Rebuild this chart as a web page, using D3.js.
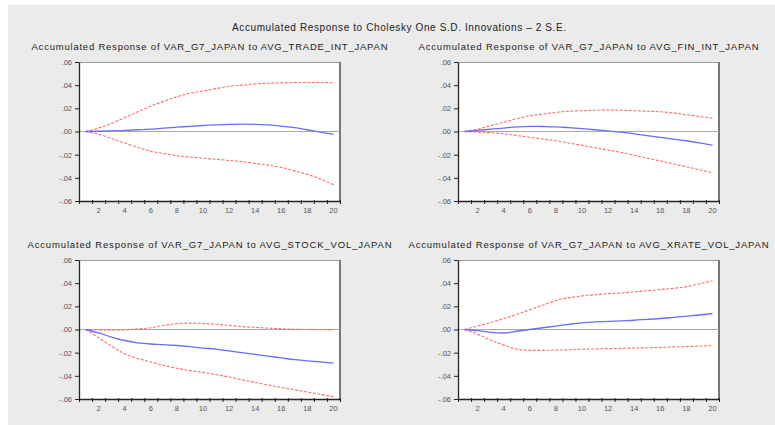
<!DOCTYPE html>
<html>
<head>
<meta charset="utf-8">
<script src="https://cdn.jsdelivr.net/npm/d3@7"></script>
<style>
  body { margin: 0; background: #fff; }
  svg { display: block; font-family: "Liberation Sans", Arial, sans-serif; }
</style>
</head>
<body>
<svg id="chart" width="775" height="425"></svg>
<script>
// periods 1..20
var periods = d3.range(1, 21)
var yTicks = [0.06, 0.04, 0.02, 0, -0.02, -0.04, -0.06]
var xLabels = [2, 4, 6, 8, 10, 12, 14, 16, 18, 20]

var mainTitle = 'Accumulated Response to Cholesky One S.D. Innovations \u2013 2 S.E.'
var panelTitles = [
  'Accumulated Response of VAR_G7_JAPAN to AVG_TRADE_INT_JAPAN',
  'Accumulated Response of VAR_G7_JAPAN to AVG_FIN_INT_JAPAN',
  'Accumulated Response of VAR_G7_JAPAN to AVG_STOCK_VOL_JAPAN',
  'Accumulated Response of VAR_G7_JAPAN to AVG_XRATE_VOL_JAPAN'
]

// responses (blue) and +/- 2 S.E. bands (red)
var tradeResp  = [0, .0002, .0005, .001, .0015, .002, .003, .0037, .0045, .0052, .0058, .0062, .0064, .0062, .0057, .0047, .0033, .0015, -.0005, -.0024]
var tradeUpper = [0, .003, .007, .012, .017, .022, .026, .030, .033, .035, .037, .039, .040, .041, .0417, .042, .0423, .0423, .0423, .042]
var tradeLower = [0, -.0023, -.006, -.010, -.0136, -.017, -.019, -.021, -.022, -.023, -.024, -.025, -.026, -.0275, -.029, -.031, -.034, -.037, -.041, -.046]

var finResp  = [0, .001, .002, .003, .004, .0045, .0043, .004, .0033, .0025, .0015, .0005, -.0005, -.002, -.0035, -.005, -.0065, -.008, -.0098, -.0118]
var finUpper = [0, .002, .005, .008, .011, .0135, .015, .0165, .0175, .018, .0183, .0185, .0183, .018, .0175, .017, .016, .0145, .013, .0115]
var finLower = [0, -.0005, -.001, -.002, -.0035, -.005, -.0065, -.008, -.010, -.012, -.014, -.016, -.018, -.0205, -.023, -.0255, -.028, -.0305, -.033, -.0357]

var stockResp  = [0, -.003, -.0065, -.0095, -.0115, -.0125, -.013, -.0138, -.0148, -.016, -.017, -.0185, -.020, -.0215, -.023, -.0245, -.026, -.027, -.028, -.029]
var stockUpper = [0, -.0003, -.0005, -.0003, .0005, .0015, .0035, .005, .0055, .0052, .0045, .0035, .0025, .0018, .0012, .0006, .0002, 0, -.0002, -.0003]
var stockLower = [0, -.007, -.0145, -.021, -.025, -.028, -.031, -.0335, -.0355, -.037, -.039, -.041, -.0435, -.0457, -.048, -.050, -.052, -.054, -.056, -.058]

var xrateResp  = [0, -.001, -.0025, -.003, -.0015, 0, .0015, .003, .0045, .0058, .0065, .007, .0075, .008, .0088, .0095, .0105, .0115, .0125, .0138]
var xrateUpper = [0, .003, .006, .0095, .013, .017, .021, .025, .0275, .029, .030, .031, .0315, .0325, .0335, .0345, .0355, .037, .0395, .042]
var xrateLower = [0, -.004, -.009, -.0135, -.017, -.018, -.018, -.0178, -.0175, -.017, -.0168, -.0165, -.0163, -.016, -.0158, -.0155, -.015, -.0148, -.0143, -.014]

var panels = [
  {title: panelTitles[0], resp: tradeResp, upper: tradeUpper, lower: tradeLower, x0: 79, y0: 62, tw: 356},
  {title: panelTitles[1], resp: finResp, upper: finUpper, lower: finLower, x0: 458, y0: 62, tw: 340},
  {title: panelTitles[2], resp: stockResp, upper: stockUpper, lower: stockLower, x0: 79, y0: 260, tw: 364},
  {title: panelTitles[3], resp: xrateResp, upper: xrateUpper, lower: xrateLower, x0: 458, y0: 260, tw: 360},
]

var plotW = 261
var plotH = 139

var svg = d3.select('#chart')

svg.append('rect')
  .attr('x', 8).attr('y', 5)
  .attr('width', 767).attr('height', 420)
  .attr('fill', '#ebebeb')

svg.append('text')
  .attr('x', 399).attr('y', 31)
  .attr('text-anchor', 'middle')
  .attr('font-size', 10)
  .attr('textLength', 334)
  .attr('lengthAdjust', 'spacing')
  .attr('fill', '#222')
  .text(mainTitle)

var fmt = d => d == 0 ? '.00' : (d < 0 ? '-' : '') + d3.format('.2f')(Math.abs(d)).replace(/^0/, '')

panels.forEach(p => {
  var x = d3.scaleLinear().domain([0.5, 20.5]).range([0, plotW])
  var y = d3.scaleLinear().domain([-0.06, 0.06]).range([plotH, 0])

  var g = svg.append('g').attr('transform', `translate(${p.x0},${p.y0})`)

  svg.append('text')
    .attr('x', p.x0 + plotW/2).attr('y', p.y0 - 12)
    .attr('text-anchor', 'middle')
    .attr('font-size', 9.5)
    .attr('textLength', p.tw)
    .attr('lengthAdjust', 'spacing')
    .attr('fill', '#222')
    .text(p.title)

  g.append('rect')
    .attr('width', plotW).attr('height', plotH)
    .attr('fill', '#fff')

  // frame: thin top, thick gray right
  g.append('path')
    .attr('d', `M0,0.5H${plotW}`)
    .attr('stroke', '#999').attr('stroke-width', 1)
  g.append('path')
    .attr('d', `M${plotW},0V${plotH}`)
    .attr('stroke', '#777').attr('stroke-width', 2)

  // zero line
  g.append('line')
    .attr('x1', 0).attr('x2', plotW)
    .attr('y1', y(0)).attr('y2', y(0))
    .attr('stroke', '#aaa').attr('stroke-width', 1)

  var yAxis = g.append('g')
    .call(d3.axisLeft(y).tickValues(yTicks).tickFormat(fmt).tickSize(4).tickSizeOuter(0))
  yAxis.select('.domain').attr('stroke', '#222').attr('stroke-width', 1.3)
  yAxis.selectAll('.tick line').attr('stroke', '#222')
  yAxis.selectAll('text').attr('font-size', 7.5).attr('fill', '#555')
    .attr('font-family', '"Liberation Sans", Arial, sans-serif')

  var xAxis = g.append('g').attr('transform', `translate(0,${plotH})`)
    .call(d3.axisBottom(x).tickValues(d3.range(0.5, 21, 1)).tickFormat('').tickSize(3).tickSizeOuter(0))
  xAxis.select('.domain').attr('stroke', '#222').attr('stroke-width', 1.3)
  xAxis.selectAll('.tick line').attr('stroke', '#222').attr('y1', -1)

  g.append('g').selectAll('text')
    .data(xLabels)
    .join('text')
    .attr('x', d => x(d))
    .attr('y', plotH + 12)
    .attr('text-anchor', 'middle')
    .attr('font-size', 7.5)
    .attr('fill', '#555')
    .text(d => d)

  var line = d3.line()
    .x((d, i) => x(periods[i]))
    .y(d => y(d))
    .curve(d3.curveMonotoneX)

  ;[p.upper, p.lower].forEach(s => {
    g.append('path')
      .attr('d', line(s))
      .attr('fill', 'none')
      .attr('stroke', '#ff6f6f')
      .attr('stroke-width', 1.1)
      .attr('stroke-dasharray', '3,1.5')
  })

  g.append('path')
    .attr('d', line(p.resp))
    .attr('fill', 'none')
    .attr('stroke', '#6b6bff')
    .attr('stroke-width', 1.3)
})
</script>
</body>
</html>
